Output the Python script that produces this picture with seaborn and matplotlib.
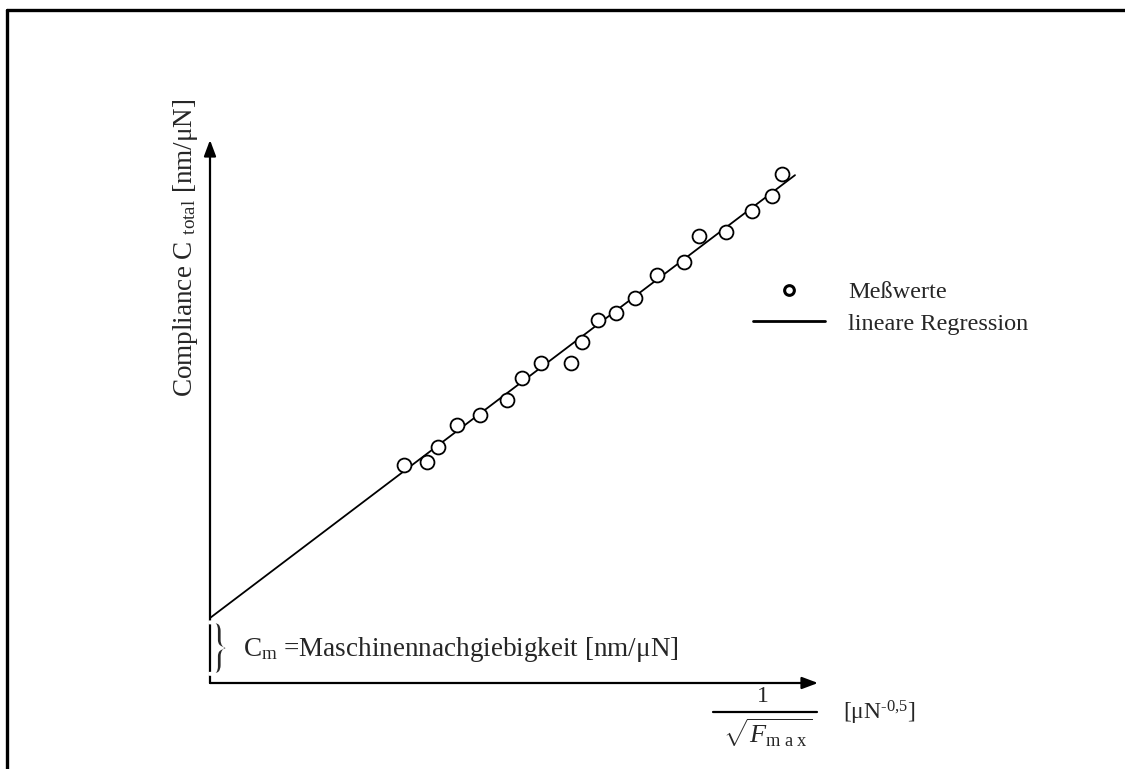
import numpy as np
import pandas as pd
import matplotlib
matplotlib.use("Agg")
import matplotlib.pyplot as plt
import matplotlib.patheffects as pe
import seaborn as sns
from matplotlib.lines import Line2D

# ---- data (schematic units) ----
x_vals = [1.94, 2.17, 2.28, 2.47, 2.70, 2.97, 3.12, 3.31, 3.61, 3.72,
          3.88, 4.06, 4.25, 4.47, 4.74, 4.89, 5.16, 5.42, 5.62, 5.72]
y_vals = [2.18, 2.21, 2.36, 2.58, 2.68, 2.83, 3.05, 3.20, 3.20, 3.41,
          3.63, 3.70, 3.85, 4.08, 4.21, 4.47, 4.51, 4.72, 4.87, 5.09]
reg_intercept = 0.65
reg_slope = 0.757
reg_x_range = [0.0, 5.85]
x_axis_max = 6.08
y_axis_max = 5.43

legend_labels = ["Meßwerte", "lineare Regression"]
ylabel_text = "Compliance C $_{\\mathrm{total}}$ [nm/μN]"
cm_text = "C$_{\\mathrm{m}}$ =Maschinennachgiebigkeit [nm/μN]"
xlabel_num = "1"
xlabel_den = r"$\sqrt{F_{\mathrm{m\ a\ x}}}$"
xlabel_unit = "[μN$^{\\mathrm{\u20100{,}5}}$]"

sns.set_theme(style="white")
plt.rcParams["font.family"] = ["Liberation Serif", "DejaVu Serif"]
plt.rcParams["mathtext.fontset"] = "custom"
plt.rcParams["mathtext.rm"] = "Liberation Serif"
plt.rcParams["mathtext.it"] = "Liberation Serif:italic"
plt.rcParams["mathtext.bf"] = "Liberation Serif:bold"

W, H, DPI = 1125, 769, 100
fig = plt.figure(figsize=(W / DPI, H / DPI), dpi=DPI)
fig.patch.set_facecolor("white")
ax = fig.add_axes([0, 0, 1, 1])
ax.set_xlim(-2.10, 9.15)
ax.set_ylim(-0.86, 6.83)
ax.axis("off")

df = pd.DataFrame({"x": x_vals, "y": y_vals})
reg_x = np.array(reg_x_range)
reg_df = pd.DataFrame({"x": reg_x, "y": reg_intercept + reg_slope * reg_x})

sns.lineplot(data=reg_df, x="x", y="y", ax=ax, color="black", lw=1.3, zorder=2)
sns.scatterplot(data=df, x="x", y="y", ax=ax, s=100, marker="o",
                facecolor="white", edgecolor="black", linewidth=1.3, zorder=3)

# axes arrows
arrow_kw = dict(arrowstyle="-|>,head_length=0.8,head_width=0.3", color="black",
                lw=1.6, shrinkA=0, shrinkB=0)
ax.annotate("", xy=(0, y_axis_max), xytext=(0, 0), arrowprops=arrow_kw)
ax.annotate("", xy=(x_axis_max, 0), xytext=(0, 0), arrowprops=arrow_kw)

# y label
ax.text(-0.25, 4.35, ylabel_text, rotation=90, ha="center", va="center",
        fontsize=19.5)

# brace + Cm text
ax.text(0.09, 0.32, "}", ha="center", va="center", fontsize=46,
        path_effects=[pe.Normal(), pe.Stroke(linewidth=1.8, foreground="white")])
ax.text(0.33, 0.33, cm_text, ha="left", va="center", fontsize=19.5)

# x label (fraction)
ax.text(5.53, -0.13, xlabel_num, ha="center", va="center", fontsize=17)
ax.plot([5.03, 6.07], [-0.29, -0.29], color="black", lw=1.6)
ax.text(5.58, -0.50, xlabel_den, ha="center", va="center", fontsize=19)
ax.text(6.33, -0.30, xlabel_unit, ha="left", va="center", fontsize=17)

# legend
handles = [
    Line2D([], [], marker="o", ls="", ms=7, mfc="white", mec="black", mew=2.2),
    Line2D([], [], color="black", lw=2.0),
]
ax.legend(handles, legend_labels, loc="center left",
          bbox_to_anchor=(753 / W, 1 - 308 / H), bbox_transform=fig.transFigure,
          frameon=False, fontsize=17.5, handlelength=2.95, handletextpad=0.95,
          labelspacing=0.4, borderpad=0, borderaxespad=0)

# partial frame (top and left)
fig.add_artist(Line2D([7 / W, 1], [1 - 10 / H, 1 - 10 / H], color="black", lw=2.4,
                      transform=fig.transFigure))
fig.add_artist(Line2D([7 / W, 7 / W], [0, 1 - 10 / H], color="black", lw=2.4,
                      transform=fig.transFigure))

fig.savefig("out.png", dpi=DPI, facecolor="white")
